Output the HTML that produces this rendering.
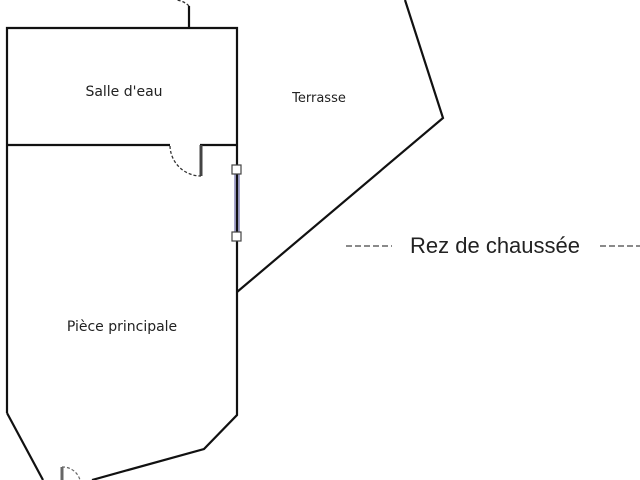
<!DOCTYPE html>
<html><head><meta charset="utf-8"><style>
body{margin:0;background:#fff;width:640px;height:480px;overflow:hidden}
svg{display:block}
text{font-family:"DejaVu Sans","Liberation Sans",sans-serif;fill:#222}
</style></head><body>
<svg width="640" height="480" viewBox="0 0 640 480">
<g stroke="#111" stroke-width="2.2" fill="none">
<polyline points="7,413 7,28 237,28 237,415 204,449 92,480"/>
<line x1="7" y1="413" x2="43" y2="480"/>
<line x1="7" y1="145" x2="170" y2="145"/>
<line x1="200" y1="145" x2="237" y2="145"/>
<line x1="189" y1="28" x2="189" y2="6"/>
<polyline points="405,0 443,118 237,292"/>
</g>
<line x1="201" y1="145" x2="201" y2="176" stroke="#444" stroke-width="3"/>
<path d="M170,146 A31,31 0 0 0 201,176" stroke="#333" stroke-width="1.3" stroke-dasharray="3,2" fill="none"/>
<path d="M189,6 A20,20 0 0 0 176,0" stroke="#333" stroke-width="1.3" stroke-dasharray="3,2" fill="none"/>
<path d="M62,467 L62,480" stroke="#666" stroke-width="3"/>
<path d="M62,467 A18,18 0 0 1 80,480" stroke="#666" stroke-width="1.2" stroke-dasharray="3,2" fill="none"/>
<line x1="235" y1="170" x2="235" y2="237" stroke="#6a6aa8" stroke-width="1.2"/>
<line x1="239" y1="170" x2="239" y2="237" stroke="#6a6aa8" stroke-width="1.2"/>
<rect x="232" y="165" width="9" height="9" fill="#fff" stroke="#444" stroke-width="1.2"/>
<rect x="232" y="232" width="9" height="9" fill="#fff" stroke="#444" stroke-width="1.2"/>
<text x="124" y="96" font-size="14" text-anchor="middle">Salle d'eau</text>
<text x="319" y="102" font-size="13" text-anchor="middle">Terrasse</text>
<text x="122" y="331" font-size="14" text-anchor="middle">Pièce principale</text>
<text x="495" y="253" font-size="22" text-anchor="middle" style="font-family:'Liberation Sans',sans-serif">Rez de chaussée</text>
<line x1="346" y1="246" x2="392" y2="246" stroke="#444" stroke-width="1.3" stroke-dasharray="6,3"/>
<line x1="600" y1="246" x2="640" y2="246" stroke="#444" stroke-width="1.3" stroke-dasharray="6,3"/>
</svg>
</body></html>
